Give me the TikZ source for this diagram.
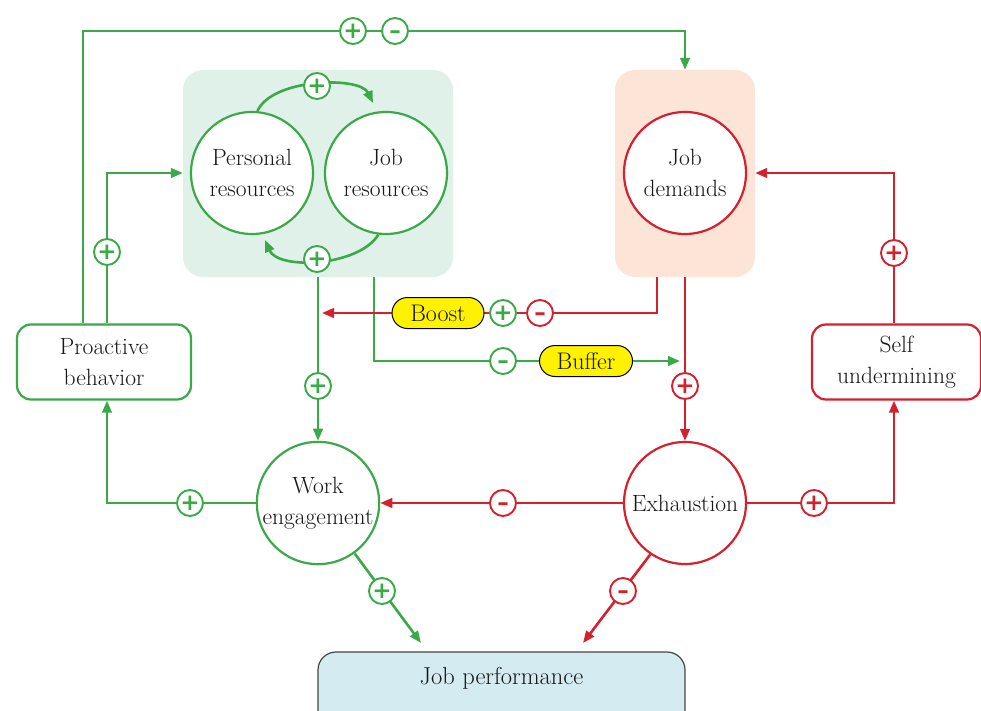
\documentclass[tikz,border=0pt]{standalone}
\usepackage{fontspec}
\newfontfamily\signfont{DejaVu Sans}
\usetikzlibrary{arrows.meta,calc}
\definecolor{grn}{RGB}{58,170,72}
\definecolor{rd}{RGB}{213,32,46}
\definecolor{resfill}{RGB}{224,241,233}
\definecolor{demfill}{RGB}{252,229,214}
\definecolor{perffill}{RGB}{211,235,241}
\definecolor{yel}{RGB}{255,242,0}
\definecolor{txt}{RGB}{25,22,23}
\definecolor{perfedge}{RGB}{70,70,70}
\begin{document}
\begin{tikzpicture}[x=1pt,y=-1pt,
  every node/.style={text=txt},
  lbl/.style={font=\fontsize{23.5}{31}\selectfont, align=center},
  gcirc/.style={circle, draw=grn, line width=2.2pt, fill=white, minimum size=122pt, inner sep=0pt, lbl},
  rcirc/.style={gcirc, draw=rd},
  gbox/.style={rectangle, rounded corners=14pt, draw=grn, line width=2.2pt, fill=white, inner sep=0pt, lbl},
  rbox/.style={gbox, draw=rd},
  gconn/.style={draw=grn, line width=2.6pt, -{Triangle[length=12pt,width=9.5pt]}},
  rconn/.style={gconn, draw=rd},
  sgn/.style={circle, draw, fill=white, line width=1.9pt, minimum size=26pt, inner sep=0pt, text height=14.6pt, text depth=0pt, font=\signfont\bfseries\fontsize{23}{23}\selectfont},
  gs/.style={sgn, draw=grn, text=grn},
  rs/.style={sgn, draw=rd, text=rd},
  tag/.style={rectangle, rounded corners=15.5pt, draw=black, line width=1pt, fill=yel, minimum width=92pt, minimum height=31pt, inner sep=0pt, font=\fontsize{24}{26}\selectfont}
]
\useasboundingbox (0,0) rectangle (981,711);
\clip (0,0) rectangle (981,711);
\fill[white] (0,0) rectangle (981,711);

% background boxes
\node[fill=resfill, rounded corners=20pt, minimum width=270pt, minimum height=207pt, inner sep=0pt] (resbox) at (318,173.5) {};
\node[fill=demfill, rounded corners=20pt, minimum width=140pt, minimum height=207pt, inner sep=0pt] (jdb) at (685,173.5) {};
\node[rectangle, rounded corners=18pt, draw=perfedge, line width=1.2pt, fill=perffill, minimum width=367pt, minimum height=100pt, inner sep=0pt] (jp) at (501.5,702) {};
\node[font=\fontsize{24.5}{26}\selectfont] (jptext) at (501.5,678) {Job performance};

% main nodes
\node[gcirc] (pr) at (252,173) {Personal\\resources};
\node[gcirc] (jr) at (386,173) {Job\\resources};
\node[rcirc] (jd) at (685,173) {Job\\demands};
\node[gcirc] (we) at (318,503) {Work\\engagement};
\node[rcirc] (ex) at (685,503) {Exhaustion};
\node[gbox, minimum width=174pt, minimum height=75pt] (pb) at (104,362) {Proactive\\behavior};
\node[rbox, minimum width=169pt, minimum height=75pt] (su) at (896.5,362) {Self\\undermining};

% coordinates for free connector ends
\coordinate (topR) at (685,31);
\coordinate (jrT) at (373,103);
\coordinate (prB) at (265,240);
\coordinate (bufEnd) at (680,361);
\coordinate (boostEnd) at (322,313);
\coordinate (jpA) at (421,643);
\coordinate (jpB) at (583,643);

% connectors
\draw[gconn] ([xshift=-21pt]pb.north) |- (topR) -- (jdb.north);
\draw[gconn] ([xshift=3pt]pb.north) |- (resbox.west |- pr);
\draw[gconn] (pr.85) .. controls (272,78) and (360,76) .. (jrT);
\draw[gconn] (jr.-97) .. controls (358,267) and (278,270) .. (prB);
\draw[gconn] (we.north |- resbox.south) -- (we.north);
\draw[gconn] ([xshift=56pt]resbox.south) |- (bufEnd);
\draw[rconn] ([xshift=-28pt]jdb.south) |- (boostEnd);
\draw[rconn] (jdb.south) -- (ex.north);
\draw[rconn] ([xshift=-2.5pt]su.north) |- (jdb.east |- jd);
\draw[rconn] (ex.east) -| ([xshift=-2.5pt]su.south);
\draw[rconn] (ex.west) -- (we.east);
\draw[gconn] (we.west) -| ([xshift=3pt]pb.south);
\draw[gconn] (we.-54) -- (jpA);
\draw[rconn] (ex.-124) -- (jpB);

% signs
\node[gs] (s1) at (353,31) {+};
\node[gs] (s2) at (395,31) {\textendash};
\node[gs] (s3) at (317,86) {+};
\node[gs] (s4) at (317,259) {+};
\node[gs] (s5) at (107,252) {+};
\node[gs] (s6) at (318,386) {+};
\node[gs] (s7) at (503,313) {+};
\node[rs] (s8) at (540,313) {\textendash};
\node[gs] (s9) at (503,361) {\textendash};
\node[rs] (s10) at (685,386) {+};
\node[rs] (s11) at (894,253) {+};
\node[rs] (s12) at (814,503) {+};
\node[rs] (s13) at (503,503) {\textendash};
\node[gs] (s14) at (190,503) {+};
\node[gs] (s15) at (382,591) {+};
\node[rs] (s16) at (623,591) {\textendash};

% tags
\node[tag] (boost) at (438,313) {Boost};
\node[tag, minimum width=93pt] (buffer) at (586,361) {Buffer};
\end{tikzpicture}
\end{document}
